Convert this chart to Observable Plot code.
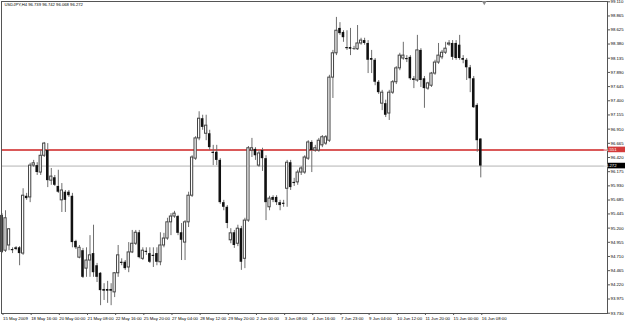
<!DOCTYPE html>
<html>
<head>
<meta charset="utf-8">
<script src="https://cdn.jsdelivr.net/npm/d3@7"></script>
<script src="https://cdn.jsdelivr.net/npm/@observablehq/plot@0.6"></script>
<style>
  html, body { margin: 0; padding: 0; background: #fff; }
  #chart svg { display: block; }
</style>
</head>
<body>
<div id="chart"></div>
<script>
// USDJPY, H4 candles (15 May 2009 .. 16 Jun 2009 08:00)
const open = [
  95.42,94.81,94.90,94.83,94.86,94.86,94.76,95.75,95.73,96.28,
  96.28,96.16,96.45,96.54,96.02,96.07,95.92,95.68,95.82,95.82,
  95.75,94.97,94.69,94.81,94.50,94.64,94.76,94.55,94.42,94.14,
  94.14,94.14,94.09,94.42,94.61,94.61,94.52,94.78,94.93,95.12,
  94.67,94.80,94.76,94.73,94.76,94.61,94.90,95.02,95.30,95.40,
  95.40,95.12,94.95,95.30,95.76,96.40,96.75,97.09,96.83,96.83,
  96.51,96.51,96.37,95.64,95.56,94.99,95.12,94.93,95.19,94.67,
  95.33,96.54,96.56,96.28,96.54,96.40,95.56,95.73,95.73,95.64,
  95.63,95.88,96.33,95.99,95.99,96.16,96.16,96.40,96.68,96.54,
  96.54,96.63,96.66,96.71,97.80,98.22,98.65,98.58,98.32,98.32,
  98.30,98.29,98.39,98.44,98.39,98.13,98.10,97.72,97.35,97.35,
  97.18,97.54,97.72,97.96,98.13,98.13,98.15,97.78,97.75,98.27,
  97.78,97.61,97.66,97.87,98.06,98.15,98.23,98.37,98.39,98.39,
  98.36,98.13,98.10,97.97,97.78,97.32,96.739
];
const high = [
  95.45,95.50,95.19,94.86,94.88,94.88,95.88,95.80,96.32,96.37,
  96.33,96.54,96.68,96.66,96.23,96.11,96.20,95.97,95.85,95.85,
  95.80,94.99,94.90,94.85,94.86,95.07,95.25,94.59,94.43,94.24,
  94.28,94.24,94.43,94.90,94.67,94.64,94.95,95.16,95.16,95.16,
  94.86,94.86,94.86,94.86,94.86,95.12,95.11,95.37,95.45,95.49,
  95.42,95.28,95.33,95.82,96.45,96.78,97.21,97.15,97.15,96.89,
  96.63,96.63,96.40,95.68,95.59,95.19,95.16,95.25,95.23,95.37,
  96.61,96.75,96.59,96.54,96.58,96.45,95.75,95.76,95.76,95.68,
  95.68,96.37,96.37,96.06,96.20,96.26,96.45,96.71,96.71,96.63,
  96.75,96.80,96.80,97.84,98.27,98.84,98.75,98.61,98.61,98.65,
  98.34,98.70,98.48,98.48,98.44,98.27,98.13,97.75,97.58,97.41,
  97.58,97.75,97.99,98.22,98.41,98.18,98.18,97.82,98.53,98.30,
  97.82,97.72,97.89,98.10,98.39,98.27,98.41,98.44,98.44,98.44,
  98.53,98.18,98.13,98.01,97.82,97.35,96.742
];
const low = [
  94.76,94.78,94.81,94.76,94.81,94.55,94.73,95.68,95.64,96.25,
  96.11,96.11,96.42,95.90,95.94,95.92,95.80,95.47,95.47,95.73,
  94.86,94.83,94.67,94.33,94.35,94.35,94.35,94.26,93.86,93.95,
  93.90,93.86,94.00,94.35,94.55,94.47,94.43,94.76,94.90,94.67,
  94.64,94.73,94.59,94.52,94.55,94.55,94.86,94.99,95.07,95.37,
  95.07,94.64,94.64,95.21,95.73,96.37,96.71,96.89,96.71,96.54,
  96.28,96.28,95.61,95.50,95.19,94.93,94.85,94.88,94.47,94.50,
  95.30,96.42,96.37,96.25,96.18,95.33,95.50,95.64,95.59,95.50,
  95.56,95.56,95.85,95.92,95.94,96.11,96.13,96.37,96.16,96.51,
  96.51,96.59,96.63,96.68,97.44,98.18,98.53,98.41,98.27,98.18,
  98.27,98.27,98.36,98.36,97.87,97.87,97.66,97.51,97.23,97.11,
  97.06,97.51,97.68,97.92,98.10,98.06,97.75,97.61,97.72,97.63,
  97.27,97.58,97.63,97.84,98.03,98.11,98.20,98.34,98.10,98.10,
  98.10,98.04,97.75,97.54,97.27,96.51,96.068
];
const close = [
  94.78,95.37,95.18,94.81,94.83,94.76,95.76,95.71,96.28,96.32,
  96.16,96.45,96.66,96.02,96.09,95.94,95.82,95.85,95.68,95.76,
  94.95,94.86,94.86,94.35,94.64,94.73,94.43,94.35,94.12,94.11,
  94.11,94.11,94.42,94.73,94.59,94.50,94.78,94.93,95.12,94.69,
  94.81,94.78,94.61,94.71,94.61,94.90,95.02,95.30,95.40,95.45,
  95.11,94.99,95.30,95.76,96.42,96.75,97.09,96.94,96.97,96.59,
  96.49,96.37,95.64,95.56,95.28,95.11,94.90,95.19,94.61,95.33,
  96.58,96.58,96.45,96.49,96.40,95.64,95.71,95.68,95.64,95.59,
  95.61,96.33,95.90,95.97,96.16,96.23,96.42,96.68,96.54,96.58,
  96.71,96.77,96.77,97.80,98.22,98.61,98.56,98.49,98.30,98.29,
  98.29,98.39,98.44,98.39,98.10,98.10,97.72,97.54,97.54,97.15,
  97.54,97.72,97.96,98.18,98.18,98.11,97.78,97.75,98.27,97.75,
  97.61,97.70,97.87,98.06,98.18,98.23,98.30,98.39,98.15,98.13,
  98.13,98.10,97.97,97.78,97.28,96.71,96.272
];

// time axis labels (one every 8 bars)
const xTickLabels = [
  "15 May 2009","18 May 16:00","20 May 00:00","21 May 08:00","22 May 16:00",
  "25 May 20:00","27 May 04:00","28 May 12:00","29 May 20:00","2 Jun 00:00",
  "3 Jun 08:00","4 Jun 16:00","7 Jun 23:00","9 Jun 04:00","10 Jun 12:00",
  "11 Jun 20:00","15 Jun 00:00","16 Jun 08:00"
];
const xTickBars = xTickLabels.map((_, k) => k * 8);

// price axis labels
const yTickValues = [
  99.110,98.865,98.625,98.380,98.135,97.890,97.645,97.400,97.155,96.910,
  96.665,96.420,96.175,95.930,95.685,95.445,95.200,94.955,94.710,94.465,
  94.220,93.975,93.730
];

const title = "USDJPY,H4 96.739 96.742 96.068 96.272";
const levelLine = 96.551;   // red horizontal level
const bidPrice = 96.272;    // last price line

const bars = open.map((o, i) => ({i, o, h: high[i], l: low[i], c: close[i]}));
const upBars = bars.filter(d => d.c >= d.o);
const downBars = bars.filter(d => d.c < d.o);

const FONT = "'Liberation Sans', Arial, sans-serif";

const chart = Plot.plot({
  width: 625,
  height: 322,
  marginLeft: 1,
  marginRight: 18,
  marginTop: 1,
  marginBottom: 9,
  style: {fontFamily: FONT, fontSize: "4.3px", background: "#fff", color: "#000"},
  x: {domain: [-0.142, 172.0], axis: null},
  y: {domain: [93.725, 99.115], axis: null},
  marks: [
    Plot.ruleY([bidPrice], {stroke: "#b4b4b4", strokeWidth: 1}),
    Plot.ruleY([levelLine], {stroke: "#d43c3c", strokeWidth: 2, strokeOpacity: 0.85}),
    Plot.ruleX(bars, {x: "i", y1: "l", y2: "h", stroke: "#6e6e6e", strokeWidth: 1}),
    Plot.rect(upBars, {x1: d => d.i - 0.32, x2: d => d.i + 0.32, y1: "o", y2: "c", fill: "#fff", stroke: "#444", strokeWidth: 1}),
    Plot.rect(downBars, {x1: d => d.i - 0.36, x2: d => d.i + 0.36, y1: "o", y2: "c", fill: "#111"}),
    Plot.frame({stroke: "#555"}),
    Plot.axisY({anchor: "right", ticks: yTickValues, tickFormat: d => d.toFixed(3), tickSize: 2, tickPadding: 1, label: null, stroke: "#555"}),
    Plot.axisX({anchor: "bottom", ticks: xTickBars, tickFormat: v => xTickLabels[xTickBars.indexOf(v)], tickSize: 2, tickPadding: 1, textAnchor: "start", dx: 1, label: null, stroke: "#555"}),
    Plot.text([title], {frameAnchor: "top-left", textAnchor: "start", lineAnchor: "top", dx: 3, dy: 2, fontSize: 4.2, fill: "#000"}),
    Plot.dot([open.length], {x: d => d, frameAnchor: "top", symbol: "triangle", rotate: 180, r: 1.8, fill: "#8a8a8a", stroke: "none", dy: 1})
  ]
});
document.getElementById("chart").appendChild(chart);

// price tags on the right axis, placed via the chart's y scale
const sy = chart.scale("y");
const svg = d3.select(chart);
const tags = [
  {v: levelLine, bg: "#d43c3c", label: levelLine.toFixed(3)},
  {v: bidPrice, bg: "#000", label: bidPrice.toFixed(3)}
];
for (const t of tags) {
  const y = sy.apply(t.v);
  const g = svg.append("g");
  g.append("rect").attr("x", 608).attr("y", y - 2.8).attr("width", 17).attr("height", 5.6).attr("fill", t.bg);
  g.append("text").attr("x", 610).attr("y", y).attr("dy", "0.34em")
    .attr("font-size", 4.3).attr("fill", "#fff").attr("font-family", FONT)
    .text(t.label);
}
</script>
</body>
</html>
